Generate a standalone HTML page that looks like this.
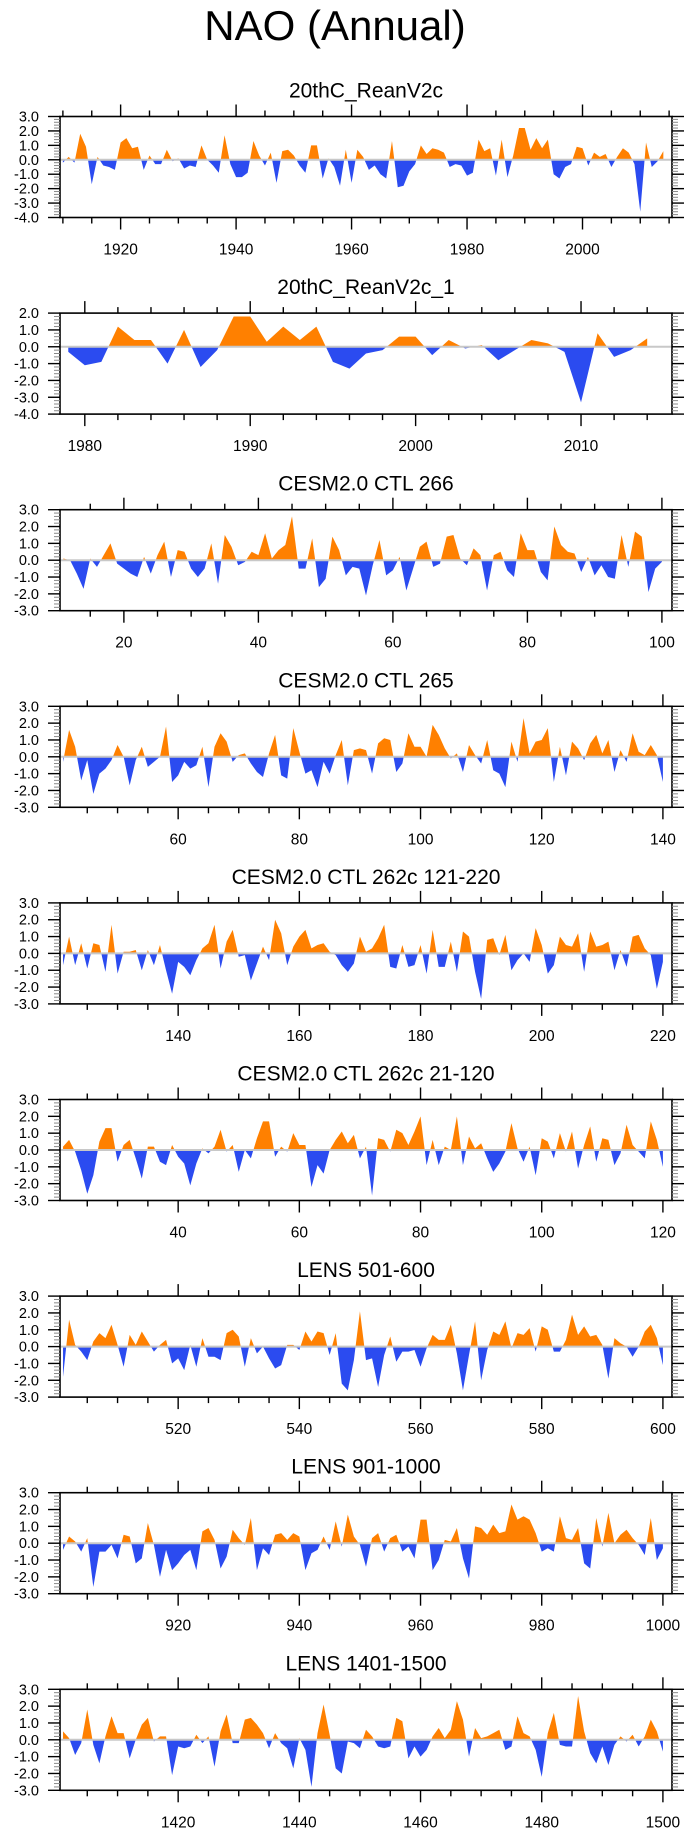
<!DOCTYPE html>
<html><head><meta charset="utf-8">
<style>
html,body{margin:0;padding:0;background:#fff;}
svg{display:block;font-family:"Liberation Sans",Arial,sans-serif;}
</style></head>
<body>
<svg id="chart" width="690" height="1836" viewBox="0 0 690 1836">
<text x="335" y="40" font-size="42" text-anchor="middle">NAO (Annual)</text>
</svg>
<script>
const titles = ["20thC_ReanV2c","20thC_ReanV2c_1","CESM2.0 CTL 266","CESM2.0 CTL 265","CESM2.0 CTL 262c 121-220","CESM2.0 CTL 262c 21-120","LENS 501-600","LENS 901-1000","LENS 1401-1500"];
const xStarts = [1910,1979,11,41,121,21,501,901,1401];
const yMins = [-4,-4,-3,-3,-3,-3,-3,-3,-3];
const yMaxs = [3,2,3,3,3,3,3,3,3];
const xTickLabels = [
 [1920,1940,1960,1980,2000],
 [1980,1990,2000,2010],
 [20,40,60,80,100],
 [60,80,100,120,140],
 [140,160,180,200,220],
 [40,60,80,100,120],
 [520,540,560,580,600],
 [920,940,960,980,1000],
 [1420,1440,1460,1480,1500]];
const xMinorSteps = [5,2,5,5,5,5,5,5,5];
const s1 = [-0.2,0.2,-0.2,1.8,0.9,-1.7,0.2,-0.4,-0.5,-0.7,1.2,1.5,0.8,0.9,-0.7,0.3,-0.3,-0.3,0.7,-0.1,0.1,-0.6,-0.4,-0.5,1.0,0.0,-0.4,-0.9,1.7,-0.3,-1.2,-1.2,-0.9,1.3,0.3,-0.4,0.5,-1.6,0.6,0.7,0.3,-0.4,-0.9,1.0,1.0,-1.3,0.1,-0.5,-1.8,0.7,-1.6,0.7,0.2,-0.7,-0.4,-1.0,-1.3,1.3,-1.9,-1.8,-0.8,-0.3,1.0,0.4,0.8,0.7,0.5,-0.5,-0.3,-0.4,-1.1,-0.9,1.4,0.6,0.8,-1.1,1.4,-1.2,0.3,2.2,2.2,0.7,1.5,0.8,1.4,-1.0,-1.3,-0.5,-0.3,0.9,0.8,-0.4,0.5,0.2,0.4,-0.5,0.2,0.8,0.5,-0.3,-3.6,1.2,-0.5,-0.1,0.6];
const s2 = [-0.3,-1.1,-0.9,1.2,0.4,0.4,-1.0,1.0,-1.2,-0.2,1.8,1.8,0.3,1.2,0.4,1.2,-0.9,-1.3,-0.4,-0.2,0.6,0.6,-0.5,0.4,-0.1,0.1,-0.8,-0.2,0.4,0.2,-0.3,-3.3,0.8,-0.6,-0.2,0.5];
const s3 = [0.1,0.0,-0.8,-1.7,0.1,-0.4,0.3,1.0,-0.2,-0.5,-0.8,-1.0,0.2,-0.8,0.3,1.1,-1.0,0.6,0.5,-0.5,-1.0,-0.5,1.0,-1.4,1.5,0.8,-0.3,-0.1,0.5,0.3,1.6,0.1,0.6,0.9,2.6,-0.5,-0.5,1.3,-1.6,-1.1,1.4,0.6,-0.9,-0.4,-0.5,-2.1,-0.3,1.2,-0.9,-0.6,0.2,-1.8,-0.5,0.8,1.1,-0.4,-0.2,1.4,1.5,0.1,-0.3,0.7,0.3,-1.8,0.3,0.5,-0.6,-1.0,1.6,0.6,0.6,-0.7,-1.2,2.0,0.9,0.5,0.4,-0.7,0.2,-0.9,-0.3,-1.0,-1.1,1.5,-0.4,1.7,1.4,-1.9,-0.5,-0.1];
const s4 = [-0.3,1.6,0.6,-1.4,-0.2,-2.2,-1.0,-0.7,-0.2,0.7,0.0,-1.7,-0.2,0.6,-0.6,-0.3,0.0,1.8,-1.5,-1.1,-0.3,-0.7,-0.5,0.6,-1.8,0.6,1.4,0.9,-0.3,0.1,0.2,-0.4,-0.9,-1.2,0.2,1.3,-1.1,-1.3,1.7,0.3,-1.0,-0.8,-1.8,-0.3,-1.0,0.1,1.0,-1.7,0.4,0.5,0.4,-1.0,0.8,1.1,1.0,-0.9,-0.4,1.4,0.6,0.6,0.0,1.9,1.3,0.5,-0.1,0.2,-0.9,0.7,0.1,-0.4,1.0,-0.8,-1.0,-1.8,0.9,-0.3,2.3,0.2,0.9,1.0,1.7,-1.5,0.6,-1.1,0.9,0.5,-0.2,0.8,1.3,0.2,1.0,-0.9,0.4,-0.3,1.4,0.3,0.1,0.7,0.1,-1.5];
const s5 = [-0.7,1.0,-0.7,0.6,-0.9,0.6,0.5,-1.1,1.7,-1.2,0.1,0.1,0.2,-1.0,0.2,-0.7,0.5,-1.0,-2.4,-0.5,-0.8,-1.3,-0.4,0.3,0.6,1.7,-0.9,0.7,1.4,-0.2,-0.1,-1.6,-0.6,0.4,-0.4,2.0,1.2,-0.7,0.4,1.0,1.4,0.3,0.5,0.6,0.1,-0.1,-0.7,-1.1,-0.6,1.0,0.1,0.3,0.9,1.7,-0.8,-0.9,0.5,-0.8,-0.7,0.5,-1.2,1.4,-0.8,-0.8,0.7,-1.1,1.3,1.0,-1.1,-2.7,0.8,0.9,-0.1,1.1,-1.0,-0.4,0.0,-0.5,1.5,0.5,-1.2,-0.7,1.0,0.5,0.4,1.2,-1.1,1.3,0.4,0.5,0.7,-1.0,0.2,-0.8,1.0,1.1,0.3,-0.1,-2.1,-0.5];
const s6 = [0.2,0.6,-0.1,-1.2,-2.6,-1.5,0.5,1.3,1.3,-0.7,0.3,0.6,-0.5,-1.7,0.2,0.2,-0.7,-0.9,0.3,-0.4,-0.8,-2.1,-0.8,0.1,-0.2,0.2,1.2,-0.1,0.3,-1.3,0.0,-0.5,0.7,1.7,1.7,-0.4,0.2,-0.1,1.0,0.3,0.3,-2.2,-0.9,-1.4,0.0,0.6,1.1,0.4,0.9,-0.5,0.2,-2.7,0.7,0.6,-0.1,1.2,1.0,0.3,1.1,2.0,-0.9,0.6,-0.9,0.2,0.0,2.0,-0.9,0.8,0.1,0.4,-0.5,-1.3,-0.8,-0.1,1.6,0.1,-0.7,0.2,-1.5,0.7,0.5,-0.5,1.0,-0.1,1.1,-1.1,0.3,1.4,-0.7,0.7,0.6,-0.9,-0.2,1.5,0.3,-0.1,-0.5,1.7,0.6,-1.0];
const s7 = [-1.8,1.6,0.1,-0.3,-0.8,0.3,0.8,0.5,1.3,0.1,-1.2,0.7,0.1,0.9,0.3,-0.3,0.1,0.4,-1.0,-0.7,-1.4,0.1,-1.2,0.5,-0.6,-0.6,-0.8,0.8,1.0,0.6,-1.2,0.5,-0.4,0.0,-0.7,-1.3,-1.1,0.1,0.1,-0.2,0.9,0.3,0.9,0.8,-0.5,0.8,-2.2,-2.6,-0.8,2.1,-0.8,-0.7,-2.4,-0.5,0.6,-0.9,-0.3,-0.3,-0.2,-1.2,-0.1,0.7,0.4,0.4,1.3,-0.4,-2.6,-0.5,1.5,-2.0,-0.2,0.9,0.7,1.5,-0.1,0.8,0.7,1.1,-0.3,1.2,1.0,-0.3,-0.3,0.4,1.9,0.7,1.2,0.6,0.7,0.1,-1.9,0.5,0.2,0.0,-0.6,0.0,0.9,1.3,0.5,-1.1];
const s8 = [-0.4,0.4,0.1,-0.5,0.3,-2.6,-0.5,-0.5,-0.1,-0.9,0.5,0.4,-1.2,-0.9,1.2,-0.1,-2.0,-0.4,-1.6,-1.2,-0.7,-0.4,-1.6,0.7,0.9,0.2,-1.5,-0.8,0.8,0.3,-0.1,1.5,-1.6,-0.3,-0.7,0.5,0.6,0.2,0.6,0.4,-1.6,-0.6,-0.4,0.4,-0.4,1.3,-0.2,1.7,0.4,-0.1,-1.4,0.3,0.6,-0.5,0.3,0.5,-0.5,-0.2,-0.9,1.4,1.4,-1.6,-1.0,0.2,0.1,0.9,-0.9,-2.1,1.0,0.9,0.5,1.1,0.6,0.7,2.3,1.4,1.6,1.4,0.6,-0.5,-0.3,-0.5,1.6,0.3,0.2,0.9,-1.2,-1.5,1.5,-0.2,1.8,0.0,0.5,0.8,0.3,-0.1,-0.7,1.5,-1.0,-0.3];
const s9 = [0.5,0.1,-0.9,-0.2,1.8,-0.3,-1.4,0.2,1.4,0.4,0.4,-1.1,0.0,0.9,1.3,-0.1,0.2,0.2,-2.1,-0.4,-0.5,-0.4,0.3,-0.2,0.2,-1.6,0.5,1.5,-0.2,-0.2,1.2,1.3,0.9,0.4,-0.5,0.4,-0.2,-0.5,-1.7,0.1,-0.6,-2.8,0.4,2.1,0.3,-1.7,-2.0,-0.1,-0.2,-0.5,0.6,0.2,-0.4,-0.5,-0.4,1.3,1.1,-1.1,-0.4,-1.0,-0.6,0.2,0.7,0.1,0.6,2.3,1.2,-1.0,0.7,0.1,0.2,0.4,0.6,-0.6,-0.4,1.4,0.4,0.2,-0.6,-2.2,0.4,1.6,-0.3,-0.4,-0.4,2.6,0.5,-0.8,-1.4,-0.4,-1.5,-0.3,0.2,-0.1,0.3,-0.4,0.2,1.2,0.5,-0.7];
const seriesList = [s1,s2,s3,s4,s5,s6,s7,s8,s9];

const NS = "http://www.w3.org/2000/svg";
const svg = document.getElementById("chart");
const L = 60, R = 672, H = 101;
function mk(tag, attrs, parent){ const e=document.createElementNS(NS,tag); for(const k in attrs) e.setAttribute(k,attrs[k]); (parent||svg).appendChild(e); return e; }

seriesList.forEach(function(vals, p){
  const top = 116.5 + 196.6*p, bot = top + H;
  const x0 = xStarts[p] - 0.5, x1 = xStarts[p] + vals.length - 1 + 1.5;
  const ymin = yMins[p], ymax = yMaxs[p];
  const xs = function(v){ return L + (v - x0)/(x1 - x0)*(R - L); };
  const ys = function(v){ return bot - (v - ymin)/(ymax - ymin)*H; };
  const g = mk("g", {});
  
  

  const t = mk("text", {x:(L+R)/2, y: top-19, "font-size":21, "text-anchor":"middle"}, g);
  t.textContent = titles[p];
  
  

  // area fills
  const z = ys(0);
  let d = "M" + xs(xStarts[p]) + "," + z;
  vals.forEach(function(v,i){ d += " L" + xs(xStarts[p]+i).toFixed(2) + "," + ys(v).toFixed(2); });
  d += " L" + xs(xStarts[p]+vals.length-1) + "," + z + " Z";
  const cpA = "clipA"+p, cpB = "clipB"+p;
  const defs = mk("defs", {}, g);
  const ca = mk("clipPath", {id:cpA}, defs); mk("rect",{x:L,y:top,width:R-L,height:z-top},ca);
  const cb = mk("clipPath", {id:cpB}, defs); mk("rect",{x:L,y:z,width:R-L,height:bot-z},cb);
  const pos = mk("path", {d:d, fill:"#ff8000", "clip-path":"url(#"+cpA+")"}, g);
  
  
  const neg = mk("path", {d:d, fill:"#2b4bf0", "clip-path":"url(#"+cpB+")"}, g);
  
  
  const zl = mk("line", {x1:L, x2:R, y1:z, y2:z, stroke:"#c8c8c8", "stroke-width":2}, g);
  
  

  // frame
  const fr = mk("rect", {x:L, y:top, width:R-L, height:H, fill:"none", stroke:"#000", "stroke-width":1.6}, g);
  
  

  // y ticks
  for (let v = ymin; v <= ymax + 1e-6; v += 0.2) {
    const yy = ys(v);
    const major = Math.abs(v - Math.round(v)) < 1e-6;
    const len = major ? 12 : 6;
    const col = major ? "#000" : "#888";
    mk("line", {x1:L-len, x2:L, y1:yy, y2:yy, stroke:col, "stroke-width":major?1.4:1}, g);
    mk("line", {x1:R, x2:R+len, y1:yy, y2:yy, stroke:col, "stroke-width":major?1.4:1}, g);
    if (major) {
      const lab = mk("text", {x:39, y:yy+5, "font-size":14.5, "text-anchor":"end"}, g);
      lab.textContent = Math.round(v).toFixed(1);
      
      
    }
  }
  // x ticks
  const step = xMinorSteps[p];
  const majors = xTickLabels[p];
  const majStep = majors[1] - majors[0];
  for (let v = Math.ceil(x0/step)*step; v <= x1; v += step) {
    const xx = xs(v);
    const major = ((v - majors[0]) % majStep) === 0;
    const len = major ? 12 : 6;
    mk("line", {x1:xx, x2:xx, y1:top-len, y2:top, stroke:"#000", "stroke-width":1.4}, g);
    mk("line", {x1:xx, x2:xx, y1:bot, y2:bot+len, stroke:"#000", "stroke-width":1.4}, g);
  }
  majors.forEach(function(v){
    const lab = mk("text", {x:xs(v), y:bot+37, "font-size":15.5, "text-anchor":"middle"}, g);
    lab.textContent = String(v);
    
    
  });
});
</script>
</body></html>
